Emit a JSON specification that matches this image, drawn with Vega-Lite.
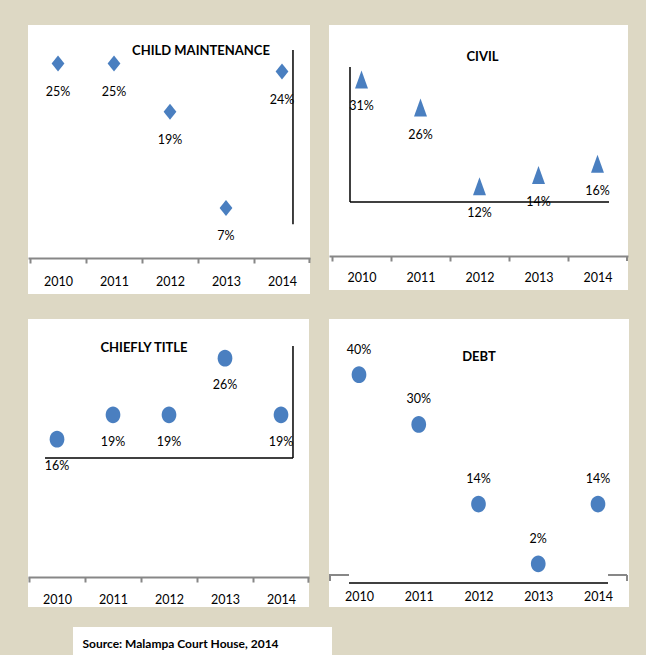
{
  "$schema": "https://vega.github.io/schema/vega-lite/v6.json",
  "background": "#ddd8c4",
  "padding": {"left": 28, "top": 25, "right": 18, "bottom": 0},
  "datasets": {
    "childMaintenance": [
      {"year": 2010, "share": 0.25},
      {"year": 2011, "share": 0.25},
      {"year": 2012, "share": 0.19},
      {"year": 2013, "share": 0.07},
      {"year": 2014, "share": 0.24}
    ],
    "civil": [
      {"year": 2010, "share": 0.31},
      {"year": 2011, "share": 0.26},
      {"year": 2012, "share": 0.12},
      {"year": 2013, "share": 0.14},
      {"year": 2014, "share": 0.16}
    ],
    "chieflyTitle": [
      {"year": 2010, "share": 0.16},
      {"year": 2011, "share": 0.19},
      {"year": 2012, "share": 0.19},
      {"year": 2013, "share": 0.26},
      {"year": 2014, "share": 0.19}
    ],
    "debt": [
      {"year": 2010, "share": 0.40},
      {"year": 2011, "share": 0.30},
      {"year": 2012, "share": 0.14},
      {"year": 2013, "share": 0.02},
      {"year": 2014, "share": 0.14}
    ]
  },
  "vconcat": [
    {
      "spacing": 25,
      "vconcat": [
        {
          "spacing": 18,
          "hconcat": [
            {
              "width": 282,
              "height": 269,
              "title": {"text": "CHILD MAINTENANCE", "dx": 32, "offset": -33},
              "layer": [
                {
                  "data": {"name": "childMaintenance"},
                  "mark": {"type": "point", "shape": "M-0.8,0L0,-1L0.8,0L0,1Z", "filled": true, "size": 256, "color": "#4a7fc0", "opacity": 1},
                  "encoding": {
                    "x": {
                      "field": "year", "type": "quantitative",
                      "scale": {"domain": [2009.464, 2014.5], "nice": false, "zero": false},
                      "axis": {
                        "values": [2009.5, 2010.5, 2011.5, 2012.5, 2013.5],
                        "labelExpr": "format(datum.value + 0.5, 'd')",
                        "labelOffset": 28, "offset": -36, "labelPadding": 12
                      }
                    },
                    "y": {"field": "share", "type": "quantitative", "scale": {"domain": [-0.037, 0.298], "nice": false, "zero": false}, "axis": null}
                  }
                },
                {
                  "data": {"name": "childMaintenance"},
                  "mark": {"type": "text", "dy": 28},
                  "encoding": {
                    "x": {"field": "year", "type": "quantitative"},
                    "y": {"field": "share", "type": "quantitative"},
                    "text": {"field": "share", "type": "quantitative", "format": ".0%"}
                  }
                },
                {
                  "data": {"values": [{}]},
                  "mark": {"type": "rule", "color": "#878787", "strokeWidth": 2},
                  "encoding": {
                    "x": {"datum": 2014.49, "type": "quantitative"},
                    "y": {"datum": 0.0078, "type": "quantitative"},
                    "y2": {"datum": 0.0016}
                  }
                },
                {
                  "data": {"values": [{}]},
                  "mark": {"type": "rule", "color": "black", "strokeWidth": 1.5},
                  "encoding": {
                    "x": {"datum": 2014.196, "type": "quantitative"},
                    "y": {"datum": 0.267, "type": "quantitative"},
                    "y2": {"datum": 0.05}
                  }
                }
              ]
            },
            {
              "width": 299,
              "height": 265,
              "title": {"text": "CIVIL", "dx": 4, "offset": -39},
              "layer": [
                {
                  "data": {"name": "civil"},
                  "mark": {"type": "point", "shape": "M-0.72,1L0,-1L0.72,1Z", "filled": true, "size": 324, "color": "#4a7fc0", "opacity": 1},
                  "encoding": {
                    "x": {
                      "field": "year", "type": "quantitative",
                      "scale": {"domain": [2009.449, 2014.517], "nice": false, "zero": false},
                      "axis": {
                        "values": [2009.5, 2010.5, 2011.5, 2012.5, 2013.5],
                        "labelExpr": "format(datum.value + 0.5, 'd')",
                        "labelOffset": 29.5, "offset": -34, "labelPadding": 10
                      }
                    },
                    "y": {"field": "share", "type": "quantitative", "scale": {"domain": [-0.065, 0.407], "nice": false, "zero": false}, "axis": null}
                  }
                },
                {
                  "data": {"name": "civil"},
                  "mark": {"type": "text", "dy": 27},
                  "encoding": {
                    "x": {"field": "year", "type": "quantitative"},
                    "y": {"field": "share", "type": "quantitative"},
                    "text": {"field": "share", "type": "quantitative", "format": ".0%"}
                  }
                },
                {
                  "data": {"values": [{}]},
                  "mark": {"type": "rule", "color": "#878787", "strokeWidth": 2},
                  "encoding": {
                    "x": {"datum": 2014.5, "type": "quantitative"},
                    "y": {"datum": -0.0045, "type": "quantitative"},
                    "y2": {"datum": -0.0134}
                  }
                },
                {
                  "data": {"values": [{}]},
                  "mark": {"type": "rule", "color": "black", "strokeWidth": 1.5},
                  "encoding": {
                    "x": {"datum": 2009.805, "type": "quantitative"},
                    "y": {"datum": 0.332, "type": "quantitative"},
                    "y2": {"datum": 0.0916}
                  }
                },
                {
                  "data": {"values": [{}]},
                  "mark": {"type": "rule", "color": "black", "strokeWidth": 1.5},
                  "encoding": {
                    "x": {"datum": 2009.805, "type": "quantitative"},
                    "x2": {"datum": 2014.195},
                    "y": {"datum": 0.0916, "type": "quantitative"}
                  }
                }
              ]
            }
          ]
        },
        {
          "spacing": 18,
          "hconcat": [
            {
              "width": 281,
              "height": 288,
              "title": {"text": "CHIEFLY TITLE", "dx": -24.5, "offset": -36},
              "layer": [
                {
                  "data": {"name": "chieflyTitle"},
                  "mark": {"type": "point", "shape": "M0,-1A0.88,1,0,1,1,0,1A0.88,1,0,1,1,0,-1Z", "filled": true, "size": 279, "color": "#4a7fc0", "opacity": 1},
                  "encoding": {
                    "x": {
                      "field": "year", "type": "quantitative",
                      "scale": {"domain": [2009.482, 2014.5], "nice": false, "zero": false},
                      "axis": {
                        "values": [2009.5, 2010.5, 2011.5, 2012.5, 2013.5],
                        "labelExpr": "format(datum.value + 0.5, 'd')",
                        "labelOffset": 28, "offset": -30, "labelPadding": 11
                      }
                    },
                    "y": {"field": "share", "type": "quantitative", "scale": {"domain": [-0.0473, 0.3084], "nice": false, "zero": false}, "axis": null}
                  }
                },
                {
                  "data": {"name": "chieflyTitle"},
                  "mark": {"type": "text", "dy": 27},
                  "encoding": {
                    "x": {"field": "year", "type": "quantitative"},
                    "y": {"field": "share", "type": "quantitative"},
                    "text": {"field": "share", "type": "quantitative", "format": ".0%"}
                  }
                },
                {
                  "data": {"values": [{}]},
                  "mark": {"type": "rule", "color": "#878787", "strokeWidth": 2},
                  "encoding": {
                    "x": {"datum": 2014.49, "type": "quantitative"},
                    "y": {"datum": -0.0111, "type": "quantitative"},
                    "y2": {"datum": -0.0173}
                  }
                },
                {
                  "data": {"values": [{}]},
                  "mark": {"type": "rule", "color": "black", "strokeWidth": 1.5},
                  "encoding": {
                    "x": {"datum": 2014.214, "type": "quantitative"},
                    "y": {"datum": 0.2751, "type": "quantitative"},
                    "y2": {"datum": 0.1367}
                  }
                },
                {
                  "data": {"values": [{}]},
                  "mark": {"type": "rule", "color": "black", "strokeWidth": 1.5},
                  "encoding": {
                    "x": {"datum": 2009.786, "type": "quantitative"},
                    "x2": {"datum": 2014.214},
                    "y": {"datum": 0.1367, "type": "quantitative"}
                  }
                }
              ]
            },
            {
              "width": 300,
              "height": 288,
              "title": {"text": "DEBT", "dx": 0, "offset": -45},
              "layer": [
                {
                  "data": {"name": "debt"},
                  "mark": {"type": "point", "shape": "M0,-1A0.88,1,0,1,1,0,1A0.88,1,0,1,1,0,-1Z", "filled": true, "size": 279, "color": "#4a7fc0", "opacity": 1},
                  "encoding": {
                    "x": {
                      "field": "year", "type": "quantitative",
                      "scale": {"domain": [2009.498, 2014.519], "nice": false, "zero": false},
                      "axis": {
                        "values": [2010, 2011, 2012, 2013, 2014],
                        "format": "d",
                        "domain": false, "ticks": false, "offset": -24, "labelPadding": 7
                      }
                    },
                    "y": {"field": "share", "type": "quantitative", "scale": {"domain": [-0.0668, 0.5118], "nice": false, "zero": false}, "axis": null}
                  }
                },
                {
                  "data": {"name": "debt"},
                  "mark": {"type": "text", "dy": -25},
                  "encoding": {
                    "x": {"field": "year", "type": "quantitative"},
                    "y": {"field": "share", "type": "quantitative"},
                    "text": {"field": "share", "type": "quantitative", "format": ".0%"}
                  }
                },
                {
                  "data": {"values": [{}]},
                  "mark": {"type": "rule", "color": "#878787", "strokeWidth": 2},
                  "encoding": {
                    "x": {"datum": 2009.498, "type": "quantitative"},
                    "x2": {"datum": 2009.833},
                    "y": {"datum": -0.0025, "type": "quantitative"}
                  }
                },
                {
                  "data": {"values": [{}]},
                  "mark": {"type": "rule", "color": "#878787", "strokeWidth": 2},
                  "encoding": {
                    "x": {"datum": 2014.168, "type": "quantitative"},
                    "x2": {"datum": 2014.486},
                    "y": {"datum": -0.0025, "type": "quantitative"}
                  }
                },
                {
                  "data": {"values": [{}]},
                  "mark": {"type": "rule", "color": "#878787", "strokeWidth": 2},
                  "encoding": {
                    "x": {"datum": 2009.515, "type": "quantitative"},
                    "y": {"datum": -0.0025, "type": "quantitative"},
                    "y2": {"datum": -0.0146}
                  }
                },
                {
                  "data": {"values": [{}]},
                  "mark": {"type": "rule", "color": "#878787", "strokeWidth": 2},
                  "encoding": {
                    "x": {"datum": 2014.486, "type": "quantitative"},
                    "y": {"datum": -0.0025, "type": "quantitative"},
                    "y2": {"datum": -0.0146}
                  }
                },
                {
                  "data": {"values": [{}]},
                  "mark": {"type": "rule", "color": "black", "strokeWidth": 1.5},
                  "encoding": {
                    "x": {"datum": 2009.833, "type": "quantitative"},
                    "x2": {"datum": 2014.168},
                    "y": {"datum": -0.0186, "type": "quantitative"}
                  }
                }
              ]
            }
          ]
        }
      ]
    },
    {
      "spacing": 18,
      "hconcat": [
        {
          "width": 27,
          "height": 29,
          "view": {"fill": null, "stroke": null},
          "data": {"values": []},
          "mark": "point"
        },
        {
          "width": 259,
          "height": 29,
          "view": {"fill": "white", "stroke": null},
          "data": {"values": [{"source": "Source: Malampa Court House, 2014"}]},
          "mark": {"type": "text", "dx": -22, "dy": 2.5, "fontWeight": "bold", "fontSize": 12},
          "encoding": {
            "x": {"field": "source", "type": "nominal", "axis": null},
            "text": {"field": "source", "type": "nominal"}
          }
        }
      ]
    }
  ],
  "config": {
    "font": "Lato",
    "view": {"fill": "white", "stroke": null},
    "title": {"font": "Lato", "fontSize": 13, "fontWeight": "bold", "color": "black", "anchor": "middle", "baseline": "alphabetic"},
    "axis": {
      "grid": false,
      "title": null,
      "labelFont": "Lato",
      "labelFontSize": 12.5,
      "labelColor": "black",
      "labelFlush": false,
      "labelOverlap": false,
      "domainColor": "#878787",
      "domainWidth": 2,
      "tickColor": "#878787",
      "tickWidth": 2,
      "tickSize": 5
    },
    "text": {"font": "Lato", "fontSize": 12.5, "color": "black", "baseline": "middle"}
  }
}
